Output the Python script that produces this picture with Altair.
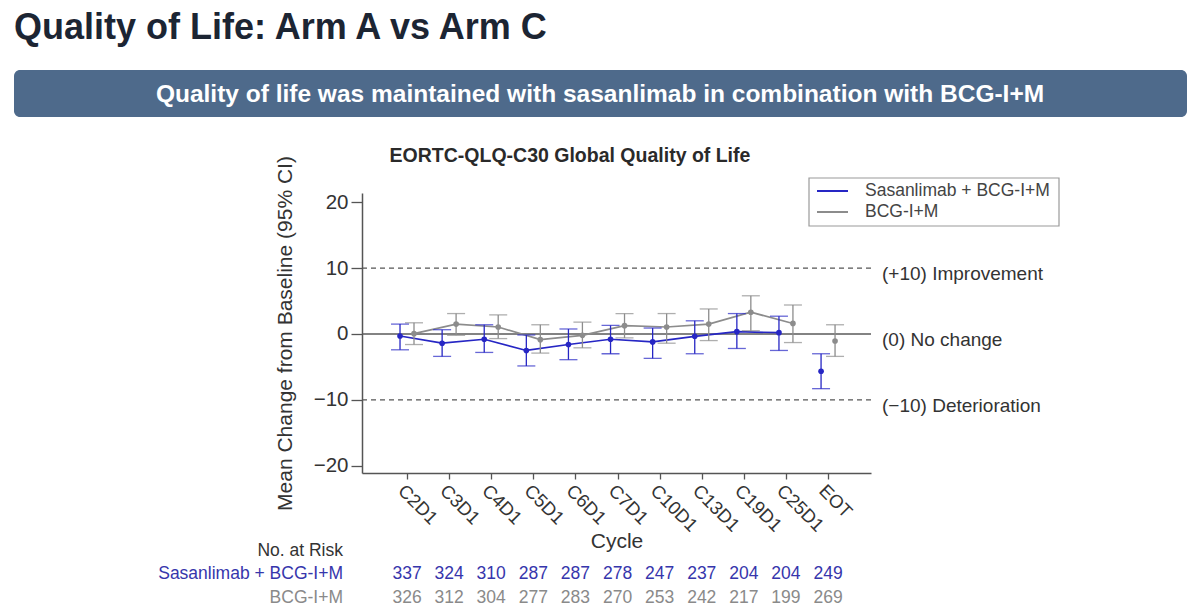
import altair as alt
import pandas as pd

# ---------------- data ----------------
cycles = ["C2D1", "C3D1", "C4D1", "C5D1", "C6D1", "C7D1", "C10D1", "C13D1", "C19D1", "C25D1", "EOT"]
series_names = ["Sasanlimab + BCG-I+M", "BCG-I+M"]

sas_mean = [-0.3, -1.4, -0.8, -2.5, -1.6, -0.8, -1.2, -0.35, 0.35, 0.2, -5.65]
sas_lo = [-2.4, -3.4, -2.8, -4.85, -3.9, -3.0, -3.7, -3.0, -2.2, -2.5, -8.3]
sas_hi = [1.5, 0.65, 1.4, -0.15, 0.76, 1.3, 0.9, 2.0, 3.1, 2.7, -3.0]

bcg_mean = [0.05, 1.5, 1.06, -0.86, -0.2, 1.26, 1.06, 1.5, 3.3, 1.6, -1.06]
bcg_lo = [-1.6, -0.2, -0.7, -2.9, -2.1, -0.6, -1.4, -1.0, 0.5, -1.3, -3.4]
bcg_hi = [1.7, 3.1, 2.9, 1.4, 1.8, 3.1, 3.1, 3.8, 5.8, 4.4, 1.4]

sas_n = [337, 324, 310, 287, 287, 278, 247, 237, 204, 204, 249]
bcg_n = [326, 312, 304, 277, 283, 270, 253, 242, 217, 199, 269]

ref_values = [10, 0, -10]
ref_labels = ["(+10) Improvement", "(0) No change", "(\u221210) Deterioration"]
y_ticks = [-20, -10, 0, 10, 20]

page_title = "Quality of Life: Arm A vs Arm C"
banner_text = "Quality of life was maintained with sasanlimab in combination with BCG-I+M"
chart_title = "EORTC-QLQ-C30 Global Quality of Life"

series_colors = ["#2626c4", "#8c8c8c"]
risk_colors = ["#3636ac", "#8a8a8a"]

# ---------------- tables ----------------
rows = []
for nm, mean, lo, hi in [(series_names[1], bcg_mean, bcg_lo, bcg_hi),
                         (series_names[0], sas_mean, sas_lo, sas_hi)]:
    for i, c in enumerate(cycles):
        rows.append(dict(series=nm, idx=i, cycle=c, mean=mean[i], lo=lo[i], hi=hi[i]))
df = pd.DataFrame(rows)

risk_sas = pd.DataFrame({"idx": list(range(len(cycles))), "n": sas_n})
risk_bcg = pd.DataFrame({"idx": list(range(len(cycles))), "n": bcg_n})

ref_df = pd.DataFrame({"v": ref_values, "label": ref_labels})

# ---------------- geometry ----------------
X0, Y0 = 362, 193
W, H = 509, 280
FONT = "Liberation Sans"

xscale = alt.Scale(domain=[-1.069, 11.02], nice=False, zero=False)
yscale = alt.Scale(domain=[-21.1, 21.4], nice=False, zero=False)
color = alt.Color("series:N", scale=alt.Scale(domain=series_names, range=series_colors), legend=None)

label_expr = "[" + ",".join("'%s'" % c for c in cycles) + "][datum.value]"

x_axis = alt.Axis(
    values=list(range(len(cycles))), labelExpr=label_expr, title="Cycle",
    labelAngle=45, labelAlign="left", labelBaseline="top", labelPadding=2,
    labelOverlap=False, labelBound=False, labelFlush=False,
    tickSize=6, titleY=68, titleBaseline="middle", titleFontSize=21,
    labelFontSize=18.5,
)
y_axis = alt.Axis(
    values=y_ticks, title="Mean Change from Baseline (95% CI)", tickSize=11,
    labelPadding=3, titleX=-77, titleY=H / 2, titleAngle=-90, titleAlign="center",
    titleBaseline="middle", titleFontSize=21, labelFontSize=20.5,
)


def XE(field):
    return alt.X(field, scale=xscale, axis=x_axis)


def YE(field):
    return alt.Y(field, scale=yscale, axis=y_axis)


base = alt.Chart(df).transform_calculate(
    pos="datum.idx + (datum.series == '%s' ? -0.166 : 0.166)" % series_names[0]
)

ref_dash = alt.Chart(ref_df).transform_filter("datum.v != 0").mark_rule(
    strokeDash=[5, 4], color="#555555", strokeWidth=1.3
).encode(y=YE("v:Q"))
ref_zero = alt.Chart(ref_df).transform_filter("datum.v == 0").mark_rule(
    color="#5a5a5a", strokeWidth=1.6
).encode(y=YE("v:Q"))

lines = base.transform_filter("datum.cycle != 'EOT'").mark_line(strokeWidth=1.7).encode(
    x=XE("pos:Q"), y=YE("mean:Q"), color=color,
)
bars = base.mark_rule(strokeWidth=1.3).encode(
    x=XE("pos:Q"), y=YE("lo:Q"), y2="hi:Q", color=color
)
cap_lo = base.mark_tick(orient="horizontal", size=18, thickness=1.3).encode(
    x=XE("pos:Q"), y=YE("lo:Q"), color=color
)
cap_hi = base.mark_tick(orient="horizontal", size=18, thickness=1.3).encode(
    x=XE("pos:Q"), y=YE("hi:Q"), color=color
)
points = base.mark_circle(size=32, opacity=1).encode(
    x=XE("pos:Q"), y=YE("mean:Q"), color=color
)

ref_text = alt.Chart(ref_df).mark_text(
    align="left", baseline="middle", dy=6, fontSize=19, color="#333333", font=FONT
).encode(x=alt.value(882 - X0), y=YE("v:Q"), text="label:N")


def risk_layer(d, col, ypix):
    return alt.Chart(d).transform_calculate(pos="datum.idx").mark_text(
        align="center", baseline="middle", fontSize=17.5, font=FONT, color=col
    ).encode(
        x=XE("pos:Q"),
        y=alt.value(ypix - Y0),
        text="n:Q",
    )


risk_text = alt.layer(
    risk_layer(risk_sas, risk_colors[0], 574),
    risk_layer(risk_bcg, risk_colors[1], 598),
)


def fixed_text(t, x, y, **kw):
    return alt.Chart(pd.DataFrame({"t": [t]})).mark_text(font=FONT, **kw).encode(
        text="t:N", x=alt.value(x - X0), y=alt.value(y - Y0)
    )


risk_labels = alt.layer(
    fixed_text("No. at Risk", 343, 551, align="right", baseline="middle", fontSize=17.5, color="#333333"),
    fixed_text(series_names[0], 343, 574, align="right", baseline="middle", fontSize=17.5, color=risk_colors[0]),
    fixed_text(series_names[1], 343, 598, align="right", baseline="middle", fontSize=17.5, color=risk_colors[1]),
)

# manual legend box
legend_box = alt.Chart(pd.DataFrame({"a": [0]})).mark_rect(
    fill="white", stroke="#9a9a9a", strokeWidth=1.2
).encode(x=alt.value(809 - X0), x2=alt.value(1059 - X0), y=alt.value(178 - Y0), y2=alt.value(226 - Y0))
legend_items = []
for nm, col, yy in zip(series_names, series_colors, [191, 212]):
    legend_items.append(
        alt.Chart(pd.DataFrame({"a": [0]})).mark_rule(color=col, strokeWidth=2).encode(
            x=alt.value(817 - X0), x2=alt.value(848 - X0), y=alt.value(yy - Y0)
        )
    )
    legend_items.append(
        fixed_text(nm, 865, yy, align="left", baseline="middle", fontSize=17.5, color="#444444")
    )

titles = alt.layer(
    fixed_text(page_title, 14, 39, align="left", baseline="alphabetic", fontSize=36,
               fontWeight="bold", color="#1c2533"),
    alt.Chart(pd.DataFrame({"a": [0]})).mark_rect(fill="#4e6a8b", cornerRadius=6).encode(
        x=alt.value(14 - X0), x2=alt.value(1187 - X0), y=alt.value(70 - Y0), y2=alt.value(117 - Y0)
    ),
    fixed_text(banner_text, 600, 95, align="center", baseline="middle", fontSize=24.5,
               fontWeight="bold", color="white"),
    fixed_text(chart_title, 570, 156, align="center", baseline="middle", fontSize=19.5,
               fontWeight="bold", color="#2a2a2a"),
)

chart = alt.layer(
    ref_dash, ref_zero, lines, bars, cap_lo, cap_hi, points, ref_text,
    risk_text, risk_labels, legend_box, *legend_items, titles
).properties(
    width=W, height=H,
    autosize=alt.AutoSizeParams(type="none"),
    padding={"left": X0, "top": Y0, "right": 1200 - X0 - W, "bottom": 616 - Y0 - H},
    background="white",
).configure_view(stroke=None).configure_axis(
    grid=False, domainColor="#555555", tickColor="#555555", domainWidth=1.5, tickWidth=1.3,
    labelColor="#333333", titleColor="#333333", labelFont=FONT, titleFont=FONT,
    titleFontWeight="normal",
)

chart.save("out.html", embed_options={"renderer": "svg", "actions": False})
